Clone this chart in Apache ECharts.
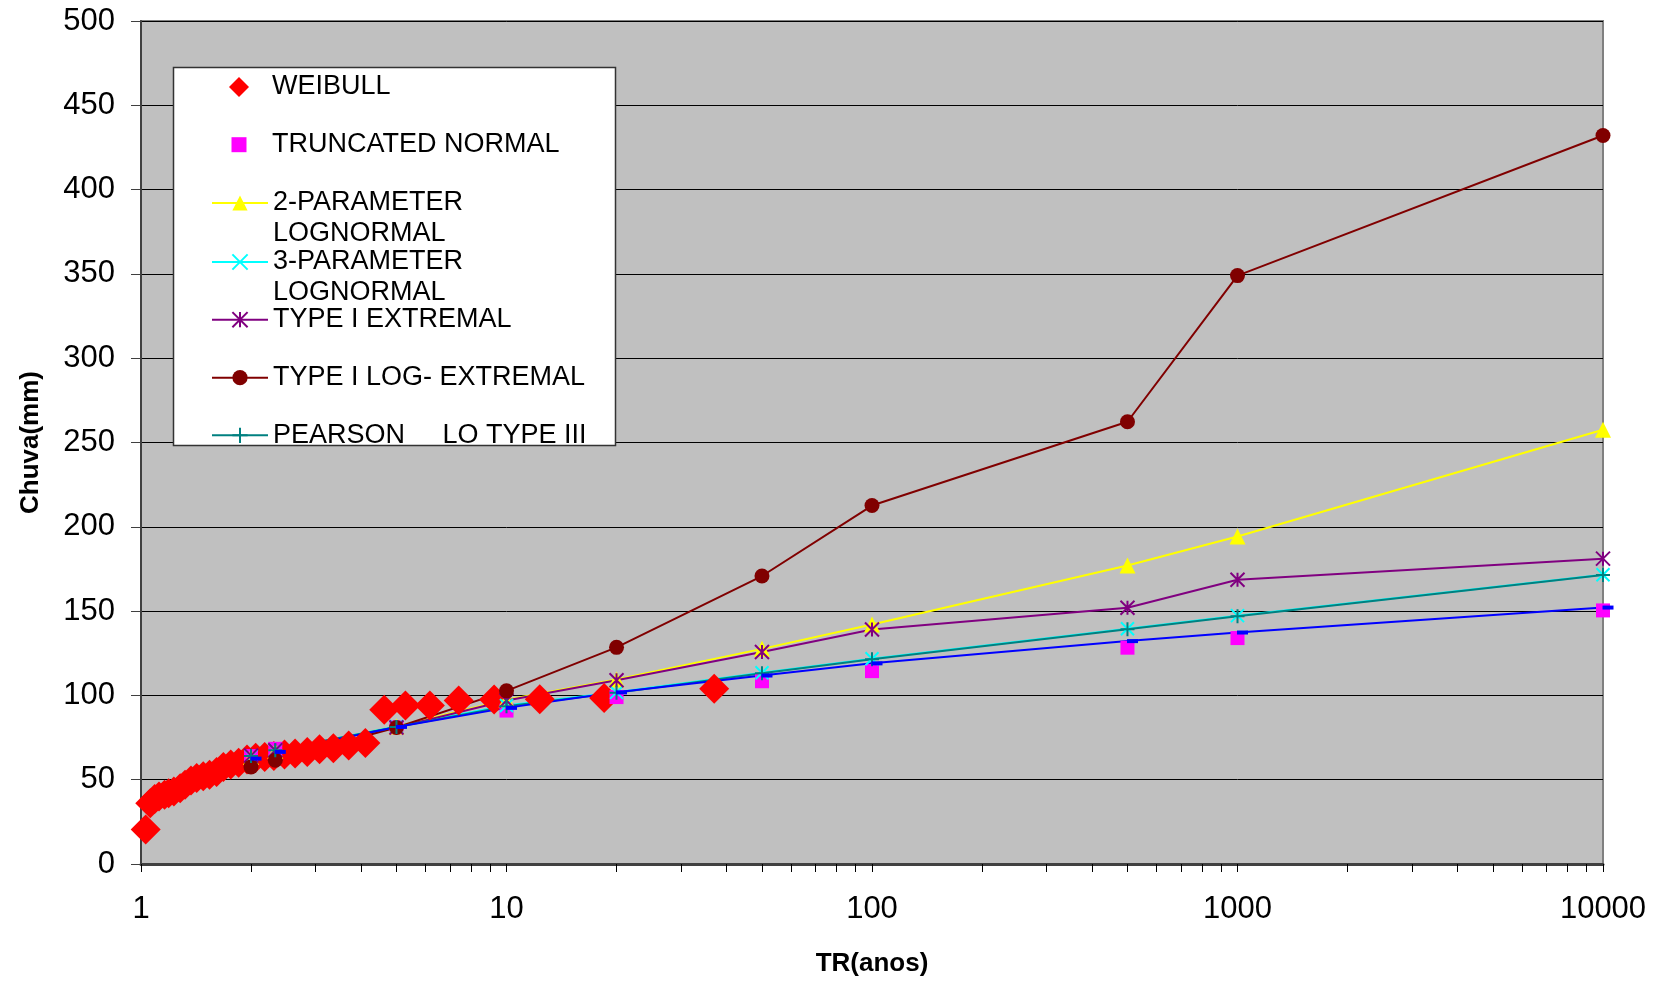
<!DOCTYPE html>
<html>
<head>
<meta charset="utf-8">
<script src="https://cdn.jsdelivr.net/npm/echarts@6/dist/echarts.min.js"></script>
<style>
html,body{margin:0;padding:0;background:#fff;}
#c{width:1657px;height:983px;}
</style>
</head>
<body>
<div id="c"></div>
<script>
// ---- data ----
const weibullTR = [37, 18.5, 12.33, 9.25, 7.4, 6.17, 5.29, 4.63, 4.11, 3.7, 3.36, 3.08, 2.85, 2.64, 2.47, 2.31, 2.18, 2.06, 1.95, 1.85, 1.76, 1.68, 1.61, 1.54, 1.48, 1.42, 1.37, 1.32, 1.28, 1.23, 1.19, 1.16, 1.12, 1.09, 1.06, 1.03];
const weibullRain = [104, 98.4, 97.7, 97.5, 97, 94, 94, 91.5, 71.7, 70.3, 68.7, 68, 66.5, 65.5, 65, 64, 63.5, 63, 62, 60, 59, 57.5, 54.5, 53, 52, 51, 49.5, 47, 45, 43, 42, 41, 40, 38.5, 36, 20.5];

const trFit = [2, 2.33, 5, 10, 20, 50, 100, 500, 1000, 10000];
const truncNormal = [64, 68.3, 81, 91, 99, 108.4, 114.4, 128.3, 134, 150.4];
const logNormal2 = [63.5, 67, 81.5, 97.5, 109.5, 127.6, 142, 177.1, 194.2, 257.6];
const logNormal3 = [64, 67.5, 81.5, 94, 101.8, 113.4, 121.7, 139.5, 147.3, 171.6];
const typeIExt = [64.4, 67.5, 81, 97, 109, 125.7, 139.1, 152, 168.6, 181.1];
const typeILogExt = [57.6, 61.5, 81, 102.7, 128.5, 170.8, 212.6, 262.3, 349, 432.1];
const pearson = [64, 67.5, 81.3, 93.5, 101.5, 113.2, 121.5, 139.3, 147, 171.4];
const blueFit = [62.5, 66.5, 81.3, 92.6, 101.8, 111.8, 119, 132.2, 137.3, 152.1];

const seriesNames = ['WEIBULL', 'TRUNCATED NORMAL', '2-PARAMETER LOGNORMAL', '3-PARAMETER LOGNORMAL', 'TYPE I EXTREMAL', 'TYPE I LOG- EXTREMAL', 'PEARSON     LO TYPE III', 'BLUE FIT'];
const xLabelValues = [1, 10, 100, 1000, 10000];
const xTickValues = [1,2,3,4,5,6,7,8,9,10,20,30,40,50,60,70,80,90,100,200,300,400,500,600,700,800,900,1000,2000,3000,4000,5000,6000,7000,8000,9000,10000];
const yMin = 0, yMax = 500, yStep = 50;

// ---- helpers ----
const FONT = "'Liberation Sans', Arial, Helvetica, sans-serif";
const pairs = (xs, ys) => xs.map((x, i) => [x, ys[i]]);
const SYM_STAR = 'path://M0,0L10,10M10,0L0,10M5,0L5,10';
const SYM_X = 'path://M0,0L10,10M10,0L0,10';
const SYM_PLUS = 'path://M5,0L5,10M0,5L10,5';

const fitDefs = [
  {name: seriesNames[2], data: logNormal2, color: '#FFFF00', symbol: 'triangle', size: 16, stroke: false},
  {name: seriesNames[3], data: logNormal3, color: '#00FFFF', symbol: SYM_X, size: 13, stroke: true},
  {name: seriesNames[4], data: typeIExt, color: '#800080', symbol: SYM_STAR, size: 14, stroke: true},
  {name: seriesNames[5], data: typeILogExt, color: '#800000', symbol: 'circle', size: 15, stroke: false},
  {name: seriesNames[6], data: pearson, color: '#008080', symbol: SYM_PLUS, size: 14, stroke: true},
  {name: seriesNames[7], data: blueFit, color: '#0000FF', symbol: 'rect', size: [11, 4], stroke: false, offset: [5, 0]}
];

const series = [];
// lines (below everything)
fitDefs.forEach(d => {
  series.push({
    type: 'line', name: d.name, xAxisIndex: 0, yAxisIndex: 0,
    data: pairs(trFit, d.data),
    symbol: d.symbol, symbolSize: d.size, showSymbol: false,
    lineStyle: {color: d.color, width: 2},
    itemStyle: {color: d.color, borderColor: d.color, borderWidth: d.stroke ? 2 : 0},
    z: 2, silent: true
  });
});
// Weibull diamonds
series.push({
  type: 'scatter', name: seriesNames[0], data: pairs(weibullTR, weibullRain),
  symbol: 'diamond', symbolSize: 30,
  itemStyle: {color: '#FF0000', opacity: 1}, z: 3, silent: true
});
// Truncated normal squares
series.push({
  type: 'scatter', name: seriesNames[1], data: pairs(trFit, truncNormal),
  symbol: 'rect', symbolSize: 14,
  itemStyle: {color: '#FF00FF', opacity: 1}, z: 4, silent: true
});
// markers of fitted series on top
fitDefs.forEach(d => {
  series.push({
    type: 'scatter', name: d.name + ' markers',
    data: pairs(trFit, d.data),
    symbol: d.symbol, symbolSize: d.size, symbolOffset: d.offset || [0, 0],
    itemStyle: {color: d.color, borderColor: d.color, borderWidth: d.stroke ? 2 : 0, opacity: 1},
    z: 4, silent: true
  });
});

function legendItem(entry, top, opts) {
  opts = opts || {};
  const o = {
    show: true, orient: 'vertical', left: opts.left || 211, top: top + 2, padding: 0,
    itemWidth: opts.w || 56, itemHeight: opts.h || 19, selectedMode: false,
    data: [entry],
    textStyle: {fontFamily: FONT, fontSize: 27, color: '#000', lineHeight: 31, padding: [0, 0, 0, opts.textPad || 0]},
    z: 6
  };
  if (opts.wrap) { const w = opts.wrap; o.formatter = () => w; }
  return o;
}

const option = {
  animation: false,
  backgroundColor: '#ffffff',
  grid: {
    left: 141, right: 54, top: 21, bottom: 119,
    show: true, backgroundColor: '#C0C0C0', borderColor: '#808080', borderWidth: 2,
    outerBoundsMode: 'none'
  },
  xAxis: [
    {
      type: 'log', logBase: 10, min: 1, max: 10000,
      name: 'TR(anos)', nameLocation: 'middle', nameGap: 87,
      nameTextStyle: {fontFamily: FONT, fontSize: 26, fontWeight: 'bold', color: '#000'},
      axisLine: {show: true, lineStyle: {color: '#404040', width: 3}},
      axisTick: {show: false},
      minorTick: {show: false},
      axisLabel: {
        margin: 30, fontFamily: FONT, fontSize: 31, color: '#000',
        customValues: xLabelValues,
        formatter: v => String(Math.round(v))
      },
      splitLine: {show: false}
    },
    {
      type: 'value', min: 0, max: 4, position: 'bottom',
      axisLine: {show: false},
      axisTick: {show: true, length: 8, customValues: xTickValues.map(v => Math.log10(v)), lineStyle: {color: '#000', width: 1}},
      axisLabel: {show: false},
      splitLine: {show: false}
    }
  ],
  yAxis: {
    type: 'value', min: yMin, max: yMax, interval: yStep,
    name: 'Chuva(mm)', nameLocation: 'middle', nameGap: 97,
    nameTextStyle: {fontFamily: FONT, fontSize: 26, fontWeight: 'bold', color: '#000'},
    axisLine: {show: true, lineStyle: {color: '#404040', width: 2}},
    axisTick: {show: true, inside: false, length: 10, lineStyle: {color: '#404040', width: 1}},
    axisLabel: {margin: 26, fontFamily: FONT, fontSize: 31, color: '#000'},
    splitLine: {show: true, lineStyle: {color: '#000', width: 1}}
  },
  graphic: [{
    type: 'rect', z: 3,
    shape: {x: 173.5, y: 67.5, width: 442, height: 378},
    style: {fill: '#ffffff', stroke: '#333333', lineWidth: 1.5}
  }],
  legend: [
    legendItem({name: seriesNames[0], icon: 'diamond'}, 69.5, {left: 229, w: 20, h: 20, textPad: 18}),
    legendItem({name: seriesNames[1], icon: 'rect'}, 127.2, {left: 231.5, w: 15, h: 15, textPad: 20.5}),
    legendItem(seriesNames[2], 154.5, {wrap: '\n2-PARAMETER\nLOGNORMAL'}),
    legendItem(seriesNames[3], 213.5, {wrap: '\n3-PARAMETER\nLOGNORMAL'}),
    legendItem(seriesNames[4], 302.2),
    legendItem(seriesNames[5], 360.2),
    legendItem(seriesNames[6], 417.8)
  ],
  series: series
};

const chart = echarts.init(document.getElementById('c'), null, {renderer: 'canvas'});
chart.setOption(option);
</script>
</body>
</html>
